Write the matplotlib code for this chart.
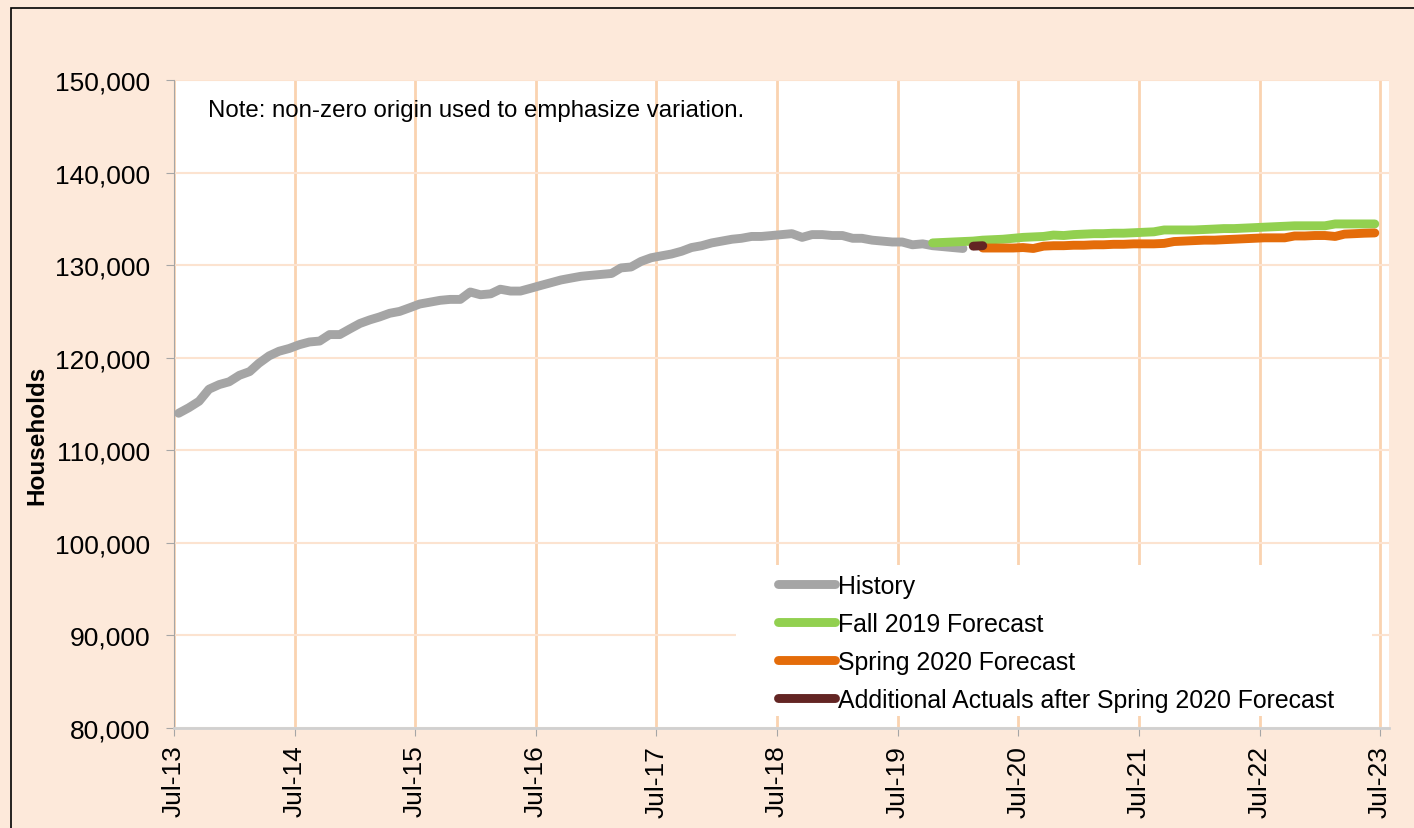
import numpy as np
import pandas as pd
import matplotlib
matplotlib.use("Agg")
import matplotlib.pyplot as plt
from matplotlib.patches import Rectangle
from matplotlib.ticker import FuncFormatter

# ---------------- data ----------------
history_start = "2013-07"
history = [114000, 114600, 115300, 116600, 117100, 117400, 118100, 118500, 119400, 120200,
           120700, 121000, 121400, 121700, 121800, 122500, 122500, 123100, 123700, 124100,
           124400, 124800, 125000, 125400, 125800, 126000, 126200, 126300, 126300, 127100,
           126800, 126900, 127400, 127200, 127200, 127500, 127800, 128100, 128400, 128600,
           128800, 128900, 129000, 129100, 129700, 129800, 130400, 130800, 131000, 131200,
           131500, 131900, 132100, 132400, 132600, 132800, 132900, 133100, 133100, 133200,
           133300, 133400, 133000, 133300, 133300, 133200, 133200, 132900, 132900, 132700,
           132600, 132500, 132500, 132200, 132300, 132100, 132000, 131900, 131800]

fall2019_start = "2019-10"
fall2019 = [132400, 132450, 132500, 132550, 132600, 132700, 132750, 132800, 132900, 133000,
            133050, 133100, 133250, 133200, 133300, 133350, 133400, 133400, 133450, 133450,
            133500, 133550, 133600, 133800, 133800, 133800, 133800, 133850, 133900, 133950,
            133950, 134000, 134050, 134100, 134150, 134200, 134250, 134250, 134250, 134250,
            134450, 134450, 134450, 134450, 134450]

spring2020_start = "2020-03"
spring2020 = [131850, 131850, 131850, 131850, 131900, 131800, 132050, 132100, 132100, 132150,
              132150, 132200, 132200, 132250, 132250, 132300, 132300, 132300, 132350, 132550,
              132600, 132650, 132700, 132700, 132750, 132800, 132850, 132900, 132950, 132950,
              132950, 133150, 133150, 133200, 133200, 133100, 133350, 133400, 133450, 133480]

additional_start = "2020-02"
additional = [132050, 132100]

series_labels = ["History", "Fall 2019 Forecast", "Spring 2020 Forecast",
                 "Additional Actuals after Spring 2020 Forecast"]
series_colors = ["#A5A5A5", "#92D050", "#E46C0A", "#632523"]

tick_years = list(range(2013, 2024))
tick_labels = [f"Jul-{y % 100:02d}" for y in tick_years]
y_ticks = list(range(80000, 150001, 10000))
note_text = "Note: non-zero origin used to emphasize variation."
y_label = "Households"


def month_dates(start, n):
    return pd.date_range(start=start, periods=n, freq="MS") + pd.Timedelta(days=14)


# ---------------- figure ----------------
W, H = 1414, 829
peach = "#FDE9DA"
plt.rcParams["font.family"] = ["Liberation Sans", "DejaVu Sans"]
fig = plt.figure(figsize=(W / 100, H / 100), dpi=100, facecolor=peach)

ax = fig.add_axes([174 / W, 1 - 729 / H, (1389 - 174) / W, (729 - 81) / H])
ax.set_facecolor("white")

# frame border of the figure (cut off at right/bottom)
fig.patches.append(Rectangle((11 / W, -0.2), 1.2, (1 - 9 / H) + 0.2,
                             transform=fig.transFigure, fill=False,
                             edgecolor="black", linewidth=1.2, zorder=0))

LW = 6.4
all_series = [(history_start, history), (fall2019_start, fall2019),
              (spring2020_start, spring2020), (additional_start, additional)]
for (start, vals), lab, col in zip(all_series, series_labels, series_colors):
    ax.plot(month_dates(start, len(vals)), vals, color=col, lw=LW,
            solid_capstyle="round", label=lab, zorder=3)

ax.set_ylim(80000, 150000)
ax.set_yticks(y_ticks)
ax.yaxis.set_major_formatter(FuncFormatter(lambda v, p: f"{int(v):,}"))
ticks = [pd.Timestamp(f"{y}-07-01") for y in tick_years]
ax.set_xticks(ticks)
ax.set_xticklabels(tick_labels, rotation=90)
ax.set_xlim(pd.Timestamp("2013-07-01"), pd.Timestamp("2023-07-28"))

ax.set_axisbelow(True)
ax.grid(axis="x", color="#FAD3B0", lw=2.0, zorder=0.5)
ax.grid(axis="y", color="#FCE3D0", lw=1.5, zorder=0.5)

for s in ["top", "right"]:
    ax.spines[s].set_visible(False)
ax.spines["left"].set_color("#A6A6A6")
ax.spines["bottom"].set_color("#D0D0D0")
ax.spines["bottom"].set_linewidth(2)
ax.tick_params(axis="y", colors="#A6A6A6", labelcolor="black", length=6,
               pad=11, labelsize=19)
ax.tick_params(axis="x", colors="#A6A6A6", labelcolor="black", length=6,
               pad=6, labelsize=19)

# white area behind legend (covers gridlines)
x0, x1 = (736 - 174) / 1215, (1372 - 174) / 1215
y0, y1 = 1 - (717 - 81) / 648, 1 - (566 - 81) / 648
ax.add_patch(Rectangle((x0, y0), x1 - x0, y1 - y0, transform=ax.transAxes,
                       facecolor="white", edgecolor="none", zorder=1))

leg = ax.legend(loc="upper left",
                bbox_to_anchor=((783 - 174) / 1215 - 0.004, 1 - (575 - 81) / 648),
                frameon=False, fontsize=17.9, handlelength=2.3, handletextpad=0.12,
                labelspacing=0.56, borderaxespad=0, borderpad=0)
for ln in leg.get_lines():
    ln.set_linewidth(LW)
    ln.set_solid_capstyle("round")

ax.text((208 - 174) / 1215, 1 - (111 - 81) / 648, note_text, transform=ax.transAxes,
        fontsize=17.3, va="center", ha="left")

fig.text(37 / W, 1 - 435 / H, y_label, rotation=90, fontsize=17.5, fontweight="bold",
         ha="center", va="center")

fig.savefig("out.png", dpi=100, facecolor=peach)
